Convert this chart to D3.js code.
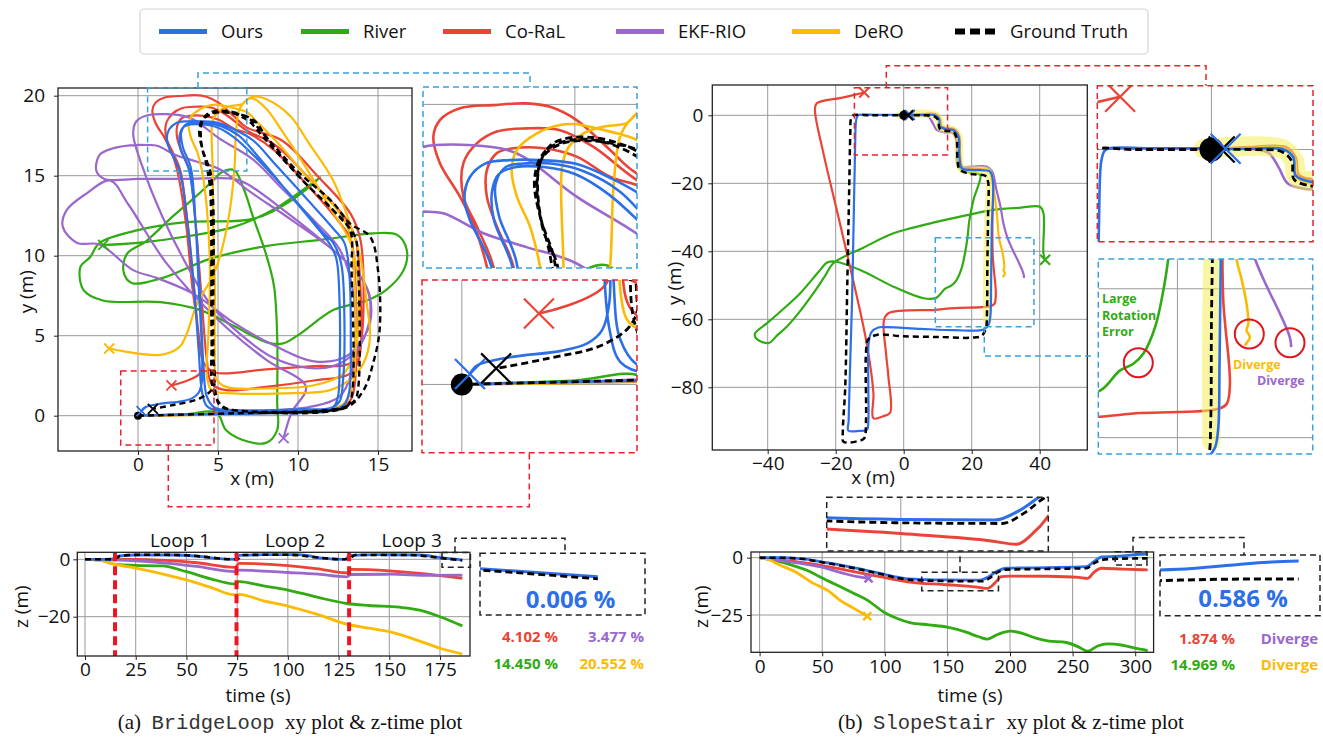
<!DOCTYPE html>
<html>
<head>
<meta charset="utf-8">
<script src="https://cdn.jsdelivr.net/npm/d3@7"></script>
<style>
  body { margin: 0; background: #fff; }
  svg { display: block; }
  text { font-family: "Open Sans", "Noto Sans", sans-serif; fill: #111; }
</style>
</head>
<body>
<svg id="fig" width="1323" height="738"></svg>
<script>
// ---------------- legend ----------------
const methods = ["Ours", "River", "Co-RaL", "EKF-RIO", "DeRO", "Ground Truth"];
const methodColors = ["#2d6fe8", "#30ab12", "#ea4337", "#9a67cc", "#fbbb05", "#000000"];

// ---------------- BridgeLoop xy (m) ----------------
const bridgeGT = [[0,0],[6,0.15],[12.2,0.35],[13.04,0.56],[13.35,1.19],[13.35,9.1],[13.25,11.6],[12.2,12.85],[10.1,14.9],[8.04,17.4],[7.2,18.5],[5.96,18.9],[4.7,18.9],[4.08,18.5],[3.9,17.75],[4.08,16.4],[4.5,15.35],[4.7,13.3],[4.7,4.9],[4.8,1.8],[5.1,0.67],[5.96,0.35],
  [12.83,0.52],[13.56,0.98],[13.77,1.8],[13.77,9.1],[13.56,11.2],[12.6,12.4],[10.2,14.8],[7.83,17.4],[6.8,18.5],[5.33,19.0],[4.19,18.7],[3.83,17.85],[4.3,15.56],[4.6,13.3],[4.6,4.9],[4.7,1.6],[5.33,0.56],[6.4,0.3],
  [13,0.5],[14.1,1.6],[14.7,3.3],[15.1,5.35],[15.0,9.1],[14.5,11.2],[13.25,12.0],[12.2,13.3],[9.9,15.35],[7.8,17.65],[6.9,18.6],[5.5,19.05],[4.4,18.9],[3.98,18.27],[4.0,16.8],[4.4,15.56],[4.55,13.3],[4.6,4.9],[4.7,1.8],[3.9,1.1],[2.2,0.67],[0.93,0.43]];
const bridgeOurs = [[0,0],[2,0.05],[5,0.1],[8,0.15],[12,0.3],[12.9,0.7],[13.2,1.5],[13.3,5],[13.2,9],[12.9,10.8],[12.2,11.7],[10.5,13.6],[8.5,15.8],[7.2,17.2],[6.0,17.9],[5.0,18.3],[4.0,18.4],[3.1,18.4],[2.4,18.3],[1.95,17.9],[1.8,17.3],[1.95,16.7],[2.6,15.3],[3.1,12],[3.5,8],[3.8,4],[4.0,1.5],[4.3,0.6],[5,0.3],
  [8,0.25],[12,0.45],[12.6,0.9],[12.8,2],[12.9,6],[12.7,9.5],[12.2,10.8],[11.5,11.5],[9.8,13.5],[7.5,16],[6.0,17.4],[5.0,18.0],[4.1,18.2],[3.3,18.2],[2.8,18.0],[2.6,17.5],[2.65,16.7],[3.2,15.3],[3.6,12],[3.9,7],[4.1,3],[4.3,1.2],[4.8,0.5],[6,0.35],
  [10,0.4],[12.2,0.55],[12.5,1.2],[12.6,3],[12.6,7],[12.4,9.8],[12.0,10.7],[11,12],[9.5,13.8],[7.5,16.2],[6.3,17.5],[5.2,18.1],[4.3,18.3],[3.5,18.3],[3.0,18.2],[2.7,17.7],[2.8,16.8],[3.3,15.5],[3.6,12],[3.8,8],[4.0,4],[4.0,2.2],[3.8,1.45],[3.4,1.1],[2.7,0.9],[1.3,0.73],[0.4,0.5],[0.22,0.28]];
const bridgeCoral = [[0,0],[3,0.05],[6,0.15],[9,0.25],[12.5,0.4],[13.3,1],[13.6,2.5],[13.6,8],[13.3,11],[12.5,12.2],[10.5,14.5],[8.5,16.6],[7,17.6],[6.02,17.92],[5.05,18.5],[4.09,18.74],[3.22,18.74],[2.74,18.6],[2.45,18.11],[2.45,17.35],[2.74,16.49],[3.22,15.34],[3.6,12],[4.0,7],[4.3,3.5],[4.6,2],[5.5,1.6],[8,1.8],[11,2.2],[13.2,2.6],
  [13.8,3.5],[13.9,8],[13.6,11],[13,12.3],[11,14.5],[8.6,16.9],[6.79,17.83],[5.54,18.78],[4.57,19.26],[3.6,19.31],[2.74,19.22],[2.16,18.88],[1.77,18.31],[1.77,17.35],[2.16,16.49],[2.64,15.34],[3.1,12],[3.5,8],[3.8,5],[4.1,3.3],[4.8,2.7],[8,2.9],[11,3.1],[13.3,3.3],
  [13.9,4.5],[14.1,8],[13.9,11],[13.3,12.6],[11.2,15],[9,17.2],[6.79,18.02],[6.02,18.69],[5.05,19.55],[4.28,19.93],[3.6,20.03],[2.64,19.98],[1.67,19.89],[1.09,19.55],[0.9,19.07],[1.09,18.31],[1.67,17.35],[2.09,16.49],[2.45,15.34],[3.0,12],[3.4,8],[3.8,5],[3.92,2.71],[2.09,1.9]];
const bridgeEkf = [[0,0],[4,0.1],[8,0.3],[11,0.6],[12.6,1.2],[13.3,2.5],[13.6,5],[13.4,8],[12.6,10.4],[11,12.2],[9,14.2],[7.2,16],[5.05,17.35],[3.5,18.5],[2.83,18.74],[0.61,18.78],[-0.1,18.4],[-0.3,17.6],
  [0.3,15.5],[1.5,12.5],[3,9.5],[4.5,7],[6.5,5],[8.5,3.6],[10.5,3.0],[12.2,3.1],[13.5,3.9],[14.3,5.3],[14.5,7.2],[13.9,8.7],[12.2,10.35],[9.5,12.3],[7,14.0],[5.05,15.43],[3.6,15.9],[2.35,16.3],[1.19,16.87],[0.61,16.92],[-0.5,16.9],[-1.6,16.7],[-2.4,16.3],[-2.6,15.3],[-2.1,14.8],
  [0,14.8],[3,14.8],[6,14.8],[6.8,14.5],[9.1,12.85],[12.2,10.35],[13.9,8.7],[14.5,7.4],[14.5,5.8],[14.1,4.9],[13,3.7],[11,3.4],[8.5,4.4],[6,5.8],[3.5,7.6],[1.2,8.6],[-0.3,9.1],[-2.4,10.7],[-3.8,10.8],[-4.7,11.8],[-4.46,12.85],[-3.2,13.9],[-1.75,14.7],
  [-0.6,13.2],[1.8,9.5],[5,6],[8,3.5],[10.5,1.8],[9.6,0.2],[9.1,-1.4]];
const bridgeDero = [[0,0],[4,0.05],[8,0.15],[11,0.3],[12.8,0.7],[13.4,1.8],[13.6,5],[13.5,9],[13.2,11.5],[12.5,12.8],[10.5,15],[8.6,17.2],[7.5,18.3],[6.79,18.98],[6.21,19.17],[5.63,19.31],[5.05,19.43],[4.57,19.41],[3.9,19.17],[3.32,18.69],[3.17,18.11],[3.32,17.35],[3.7,16.49],[3.99,15.34],[4.3,13],[4.5,9],[4.4,5],[4.3,2.5],[4.6,1.6],[6,1.4],[9,1.4],[12,1.6],[13.3,2.3],
  [14.1,3.3],[14.5,4.9],[14.3,7],[13.9,9.9],[13.25,12],[12.2,14.7],[10.7,17.0],[9.5,18.75],[8.0,19.8],[7.2,19.95],[6.79,19.74],[6.5,19.46],[5.83,19.36],[5.25,19.17],[4.77,18.69],[4.62,18.11],[4.67,15.34],[4.7,12],[4.8,8],[4.8,4],[4.9,2.3],[5.5,1.8],[8,1.7],[11,1.9],[12.8,2.6],
  [13.5,3.8],[13.8,6],[13.7,9],[13.2,11],[12,13],[10.5,15.5],[9,17.8],[8,19.2],[7.1,19.85],[6.6,19.55],[6.31,19.07],[6.12,17.64],[6.02,15.34],[5.6,12],[4.8,9],[3.7,7],[3.0,5],[2.6,4.3],[1.4,3.8],[-1.8,4.2]];
const bridgeRiver = [[0,0],[3,0.1],[4.9,0.2],[5.5,-0.9],[6.5,-1.5],[8,-1.7],[8.7,-0.9],[8.7,0.8],[8.7,4.9],[8.5,8.1],[8,10.1],[7.2,12.4],[6.6,14.2],[6,15.35],[5.2,15.2],[4.7,14.7],[3.5,13.6],[2,12.3],[0.5,10.9],[-0.7,10.1],[-0.9,9],[-0.4,8.3],[1.5,8.6],[4.5,9.8],[8,10.6],[11.5,11.0],[14.7,11.4],[16.2,11.3],[16.8,10.35],[16.6,9.1],[15.5,7.85],[14.3,7.2],[12.2,6.6],[10.1,5.1],[9,4.5],[8,4.6],[6,5.6],[3.9,6.6],[1.4,7.1],[-2.2,7.2],[-3.4,7.85],[-3.6,9.3],[-3,9.9],[-2.4,10.8],[0,11.6],[3,12.1],[7.2,12.3],[9.5,13.4],[11.4,14.9],[10,13.9],[8.5,12.9],[6,11.8],[3,11.2],[0,10.8],[-2.17,10.67]];
const bridgeEnds = [[0.22,0.28],[-2.17,10.67],[2.09,1.9],[9.1,-1.4],[-1.8,4.2],[0.93,0.43]];

// ---------------- SlopeStair xy (m) ----------------
const stairGT = [[0,0],[5,0],[9,-0.3],[10.2,-1.5],[10.5,-3.8],[12.5,-4.6],[14.5,-4.8],[15.5,-6.5],[15.8,-12.5],[16.5,-16],[20,-17.3],[24,-17.8],[24.8,-19.5],[24.8,-30],[24.6,-45],[24.5,-58],[24.2,-62.5],[23,-64.8],[20,-65.4],[10,-65.2],[0,-65],[-8,-64.6],[-10.5,-66],[-11.1,-70],[-11.1,-90],[-11.6,-95],[-13,-95.7],[-17.7,-96],[-17.9,-93],[-17.2,-80],[-16.6,-50],[-16,-20],[-15.7,-5],[-15.5,-1],[-14.8,0],[-10,0],[-5,0],[1.3,0]];
const stairOurs = [[0,0],[5,0.1],[9.2,0],[10.4,-1],[10.7,-3.3],[12.6,-4.1],[14.5,-4.3],[16.1,-6.3],[16.4,-12.2],[17.1,-15.6],[20.5,-16.1],[25.4,-16.6],[26.2,-19],[25.9,-33.7],[25.7,-50],[25.5,-59],[25,-61.5],[23.5,-63],[15,-63.2],[5,-62.8],[-5,-62.3],[-7.5,-62.4],[-9.5,-63.8],[-10.3,-67],[-10.4,-80],[-10.4,-90],[-10.8,-92.5],[-13,-92.8],[-16.3,-92.7],[-16.2,-90],[-15.8,-75],[-15.2,-55],[-14.7,-30],[-14.3,-10],[-14,-1.5],[-13.6,-0.2],[-13,0.15],[-8,0.15],[-1,0.15],[1.8,0.1]];
const stairCoral = [[0,0],[5,0.3],[9.5,0.3],[10.7,-1],[11.1,-3.2],[12.8,-3.8],[14.8,-4.0],[16.3,-6],[16.6,-12],[17.3,-15.3],[20.5,-15.8],[25.5,-16.3],[26.3,-18.5],[26.1,-30],[26.2,-41.5],[27.1,-52.8],[26.65,-55.5],[25.3,-56.2],[15,-56.7],[9.5,-57.2],[-4.5,-58.2],[-5.8,-60.2],[-5.2,-70],[-4.5,-76.9],[-4,-87.5],[-6,-88.5],[-8.9,-89.1],[-8.9,-81.8],[-10.9,-67],[-15.8,-44.5],[-19.7,-27.8],[-23.6,-11.2],[-26.1,1.6],[-25.6,3.5],[-18,5.2],[-11.6,6.7]];
const stairRiver = [[0,0],[5,0.2],[9.3,0.2],[10.5,-1.2],[10.9,-3.5],[12.8,-4.3],[14.6,-4.6],[16.0,-6.6],[16.2,-12.5],[16.9,-16],[20,-17],[22.5,-17.5],[20.5,-24.9],[19.3,-31],[18.76,-36],[18.1,-40.2],[17,-45.1],[15.4,-48.7],[14.0,-50.1],[12.2,-51],[9.5,-53.7],[5.8,-53.8],[-3,-50.4],[-12.8,-45.5],[-20.2,-43],[-22.5,-43.3],[-25,-46],[-30.5,-52.4],[-36,-57.5],[-40,-61],[-43.7,-64.1],[-43.5,-65.5],[-39.8,-67],[-37,-64.5],[-34.4,-62.2],[-30,-57],[-26.6,-52.4],[-23,-47],[-20.7,-43.5],[-12,-39],[-3,-34.7],[7,-32],[16.6,-29.8],[26.4,-27.8],[34,-27.2],[40.1,-26.9],[41.1,-28.8],[41.1,-40.6],[41.6,-42.5]];
const stairEkf = [[0,0],[4,0.1],[7.2,-0.4],[8.5,-2.2],[9.7,-4.3],[12,-5],[14.6,-5.3],[15.6,-8.2],[16.1,-15.1],[20,-15.1],[24.4,-15.1],[26,-16.5],[26.5,-18],[27.3,-22],[28.5,-27],[29.3,-31.7],[30.5,-36],[32.1,-39.7],[33.85,-43.3],[35.2,-46.5],[35.4,-47.85]];
const stairDero = [[0,0],[5,0.2],[9.3,0.1],[10.6,-1.3],[10.9,-3.6],[12.8,-4.4],[14.6,-4.7],[16.0,-6.6],[16.3,-12.5],[17.0,-15.8],[20.5,-16.3],[24.9,-16.1],[25.9,-19],[26.9,-24.9],[27.5,-30],[28,-36],[28.7,-38.8],[29.35,-42],[29.6,-44.7],[29.35,-45.6],[29.8,-46.5],[29.1,-47.6]];
const stairHighlight = [[-1,0.1],[9,0.1],[10.5,-1.5],[10.9,-3.6],[14.5,-4.4],[16,-6.3],[16.3,-12],[17,-15.6],[24.5,-16.5],[25.3,-19],[24.9,-30],[24.6,-45],[24.6,-60.5]];
const stairEnds = [[1.8,0.1],[41.6,-42.5],[-11.6,6.7],null,null,[1.3,0]];

// ---------------- z-time [t (s), z (m)] ----------------
const bridgeZOurs  = [[0,0],[10,0],[14,0.1],[17,1.2],[25,1.5],[45,1.5],[58,0.9],[66,0.2],[74,0],[76,1.4],[90,1.6],[105,1.6],[118,0.3],[128,0],[131,1.4],[145,1.6],[165,1.5],[175,0.6],[186,-0.2]];
const bridgeZGT    = [[0,0],[10,0],[14,0],[18,1.3],[30,1.6],[50,1.4],[62,0.6],[72,0],[75,0],[78,1.5],[100,1.6],[115,0.6],[127,0],[130,0],[133,1.5],[160,1.5],[176,0.4],[186,-0.4]];
const bridgeZCoral = [[0,0],[15,0],[25,0],[40,-0.4],[55,-1.2],[74,-2.8],[76,-1.4],[100,-2.2],[115,-3.3],[129,-4.7],[131,-3.5],[150,-4.0],[165,-4.9],[186,-6.6]];
const bridgeZEkf   = [[0,0],[15,-0.2],[25,-0.5],[40,-1.3],[55,-2.5],[74,-4.3],[76,-3.8],[100,-4.6],[115,-5.2],[129,-6.1],[131,-5.3],[150,-5.2],[170,-5.6],[186,-5.5]];
const bridgeZRiver = [[0,0],[8,-0.3],[15,-1.8],[25,-2.1],[38,-2.3],[50,-4.3],[62,-6.8],[74,-8.6],[76,-7.8],[88,-9.3],[100,-10.7],[115,-13.3],[129,-15.4],[140,-16.1],[155,-16.7],[165,-17.7],[175,-20],[186,-23.2]];
const bridgeZDero  = [[0,0],[8,-0.5],[15,-1.8],[25,-3.1],[40,-5.4],[50,-7.2],[62,-9.8],[74,-12.4],[76,-12.2],[88,-14.5],[100,-16.3],[115,-19.3],[129,-22.6],[140,-24],[150,-25.2],[165,-28.5],[175,-31],[186,-33]];
const loopStarts = [14.8, 74.7, 130.2];
const loopLabels = ["Loop 1", "Loop 2", "Loop 3"];

const stairZOurs  = [[0,0],[15,0],[35,-0.5],[48,-1.7],[70,-3.8],[96,-6.8],[110,-8.5],[118,-9.2],[150,-9.7],[176,-9.8],[183,-8.3],[190,-5.8],[197,-4.6],[230,-4.3],[261,-3.9],[267,-1.7],[273,0.3],[290,0.8],[305,1.5],[310,1.6]];
const stairZGT    = [[0,0],[15,0],[35,-0.6],[50,-2],[70,-4],[96,-7],[110,-8.8],[120,-9.6],[150,-10.2],[178,-10.3],[184,-8.8],[190,-6.4],[197,-5.2],[230,-4.9],[261,-4.6],[267,-2.5],[273,-1.0],[283,-0.5],[305,-0.3],[310,-0.3]];
const stairZCoral = [[0,0],[16,-1],[30,-1.8],[48,-3.2],[70,-5.5],[96,-8.3],[118,-10.5],[150,-11.8],[175,-12.9],[182,-13.4],[188,-11],[193,-8.3],[200,-8],[230,-8.1],[255,-8.6],[262,-9],[267,-6.4],[273,-4.6],[290,-5],[310,-5.3]];
const stairZEkf   = [[0,0],[16,-1.2],[30,-2.3],[48,-3.9],[65,-6.5],[78,-8.3],[87,-9]];
const stairZDero  = [[0,0],[8,-1],[16,-3.2],[28,-6],[43,-11.2],[55,-14.5],[64,-18.5],[75,-22],[86,-25.5]];
const stairZRiver = [[0,0],[16,-1.7],[30,-4],[40,-6],[48,-8.3],[60,-11.5],[75,-15.5],[86,-18.5],[100,-24],[110,-26.5],[120,-28.3],[135,-29.3],[150,-30.3],[165,-32.5],[175,-34.5],[182,-35.5],[190,-33.5],[200,-32],[210,-33],[220,-35],[230,-36.3],[245,-37],[255,-39],[262,-40.8],[270,-38.5],[278,-37.6],[290,-38.2],[300,-39.5],[310,-40.5]];

const bridgeErr = ["0.006 %", "14.450 %", "4.102 %", "3.477 %", "20.552 %"];
const stairErr  = ["0.586 %", "14.969 %", "1.874 %", "Diverge", "Diverge"];

// ---------------- helpers ----------------
const svg = d3.select("#fig");
const defs = svg.append("defs");
let clipN = 0;
const C = name => methodColors[methods.indexOf(name)];
const TICK_FS = 19, LABEL_FS = 19;

function clipRect(b) {
  const id = "clip" + (clipN++);
  defs.append("clipPath").attr("id", id).append("rect")
    .attr("x", b[0]).attr("y", b[1]).attr("width", b[2] - b[0]).attr("height", b[3] - b[1]);
  return "url(#" + id + ")";
}
function polyline(pts, color, width, dash) {
  svg.append("path").attr("d", d3.line()(pts)).attr("fill", "none")
    .attr("stroke", color).attr("stroke-width", width).attr("stroke-dasharray", dash);
}
function drawX(g, x, y, s, color, w) {
  g.append("path").attr("d", `M${x-s},${y-s}L${x+s},${y+s}M${x-s},${y+s}L${x+s},${y-s}`)
    .attr("stroke", color).attr("stroke-width", w).attr("fill", "none");
}

// one xy / z panel: series drawn through scales, clipped to the box
function panel(p) {
  const g = svg.append("g");
  const inner = g.append("g").attr("clip-path", clipRect(p.box));
  const [x0, y0, x1, y1] = p.box;
  (p.gx || []).forEach(v => inner.append("line").attr("x1", p.x(v)).attr("x2", p.x(v))
      .attr("y1", y0).attr("y2", y1).attr("stroke", "#999").attr("stroke-width", 1));
  (p.gy || []).forEach(v => inner.append("line").attr("y1", p.y(v)).attr("y2", p.y(v))
      .attr("x1", x0).attr("x2", x1).attr("stroke", "#999").attr("stroke-width", 1));
  const line = d3.line().x(d => p.x(d[0])).y(d => p.y(d[1])).curve(p.curve || d3.curveCatmullRom.alpha(0.5));
  p.series.forEach(s => {
    if (s.highlight) {
      inner.append("path").datum(s.data).attr("d", line).attr("fill", "none")
        .attr("stroke", "#f2ee55").attr("stroke-opacity", 0.55)
        .attr("stroke-width", s.width).attr("stroke-linecap", "round").attr("stroke-linejoin", "round");
      return;
    }
    const gt = s.name === "Ground Truth";
    inner.append("path").datum(s.data).attr("d", line).attr("fill", "none")
      .attr("stroke", C(s.name)).attr("stroke-width", gt ? p.gtw : p.lw)
      .attr("stroke-dasharray", gt ? p.dash : null).attr("stroke-linejoin", "round");
  });
  (p.marks || []).forEach(m => {
    const px = p.x(m.at[0]), py = p.y(m.at[1]);
    if (m.dot) inner.append("circle").attr("cx", px).attr("cy", py).attr("r", m.dot).attr("fill", "#000");
    else drawX(inner, px, py, m.s, C(m.name), m.w || 2);
  });
  g.append("rect").attr("x", x0).attr("y", y0).attr("width", x1 - x0).attr("height", y1 - y0)
    .attr("fill", "none").attr("stroke", p.frame || "#222").attr("stroke-width", p.frameW || 1.3)
    .attr("stroke-dasharray", p.frameDash || null);
  return g;
}
function axes(p, xt, yt, pad) {
  const ax = svg.append("g").attr("transform", `translate(0,${p.box[3]})`)
    .call(d3.axisBottom(p.x).tickValues(xt).tickSize(4).tickPadding(pad[0]));
  const ay = svg.append("g").attr("transform", `translate(${p.box[0]},0)`)
    .call(d3.axisLeft(p.y).tickValues(yt).tickSize(4).tickPadding(pad[1]));
  [ax, ay].forEach(a => {
    a.attr("font-size", TICK_FS).attr("font-family", '"Open Sans", sans-serif');
    a.select(".domain").remove();
    a.selectAll("line").attr("stroke", "#222");
    a.selectAll("text").attr("fill", "#111");
  });
}
function label(x, y, txt, fs, opt = {}) {
  const t = svg.append("text").attr("x", x).attr("y", y).attr("font-size", fs)
    .attr("text-anchor", opt.anchor || "middle").text(txt);
  if (opt.rotate) t.attr("transform", `rotate(-90,${x},${y})`);
  if (opt.color) t.style("fill", opt.color);
  if (opt.bold) t.attr("font-weight", 700);
  return t;
}
function boxOf(p, dx, dy) { return [p.x(dx[0]), p.y(dy[1]), p.x(dx[1]), p.y(dy[0])]; }
function dashedBox(b, color) {
  svg.append("rect").attr("x", b[0]).attr("y", b[1]).attr("width", b[2] - b[0]).attr("height", b[3] - b[1])
    .attr("fill", "none").attr("stroke", color).attr("stroke-width", 1.5).attr("stroke-dasharray", "6,4");
}
const sets = (arrs, order) => order.map(i => ({ name: methods[i], data: arrs[i] }));
const drawOrder = [1, 2, 3, 4, 0, 5];
const BLUE_BOX = "#39a0dd", RED_BOX = "#e8212b", BLACK_BOX = "#222";

// ---------------- legend ----------------
svg.append("rect").attr("x", 140).attr("y", 9).attr("width", 1008).attr("height", 45).attr("rx", 4)
  .attr("fill", "#fff").attr("stroke", "#d4d4d4").attr("stroke-width", 1.2);
const legSw = [159, 301, 443, 616, 792, 955];
methods.forEach((m, i) => {
  const gt = m === "Ground Truth";
  svg.append("line").attr("x1", legSw[i]).attr("x2", legSw[i] + (gt ? 40 : 48)).attr("y1", 31.5).attr("y2", 31.5)
    .attr("stroke", methodColors[i]).attr("stroke-width", gt ? 6 : 5).attr("stroke-dasharray", gt ? "10,5" : null);
  label(legSw[i] + (gt ? 55 : 62), 38, m, 18.5, { anchor: "start" });
});

// ---------------- (a) BridgeLoop xy ----------------
const bridgeArr = [bridgeOurs, bridgeRiver, bridgeCoral, bridgeEkf, bridgeDero, bridgeGT];
const aMain = { box: [58, 88, 412, 451], x: d3.scaleLinear([0, 15], [138, 378]), y: d3.scaleLinear([0, 20], [415.7, 95.7]) };
const aBlueDom = { x: [0.6, 6.8], y: [15.3, 20.5] }, aRedDom = { x: [-1.08, 4.75], y: [-1.83, 2.8] };
panel(Object.assign(aMain, { gx: [0, 5, 10, 15], gy: [0, 5, 10, 15, 20], lw: 2.2, gtw: 2.4, dash: "6,4",
  series: sets(bridgeArr, drawOrder),
  marks: [{ at: [0, 0], dot: 4 }].concat(bridgeEnds.map((e, i) => ({ name: methods[i], at: e, s: 5, w: 1.8 }))) }));
axes(aMain, [0, 5, 10, 15], [0, 5, 10, 15, 20], [3, 9]);
label(252, 485, "x (m)", LABEL_FS);
label(33, 291.7, "y (m)", LABEL_FS, { rotate: true });
dashedBox(boxOf(aMain, aBlueDom.x, aBlueDom.y), BLUE_BOX);
dashedBox(boxOf(aMain, aRedDom.x, aRedDom.y), RED_BOX);

const aBlueBox = [423, 87, 637, 268], aRedBox = [422, 280, 637, 452.7];
panel({ box: aBlueBox, x: d3.scaleLinear(aBlueDom.x, [aBlueBox[0], aBlueBox[2]]), y: d3.scaleLinear(aBlueDom.y, [aBlueBox[3], aBlueBox[1]]),
  gx: [5], gy: [20], lw: 2.6, gtw: 2.8, dash: "7,4", series: sets(bridgeArr, drawOrder),
  frame: BLUE_BOX, frameW: 1.5, frameDash: "6,4" });
panel({ box: aRedBox, x: d3.scaleLinear(aRedDom.x, [aRedBox[0], aRedBox[2]]), y: d3.scaleLinear(aRedDom.y, [aRedBox[3], aRedBox[1]]),
  gx: [0], gy: [0], lw: 2.6, gtw: 2.8, dash: "7,4", series: sets(bridgeArr, drawOrder),
  marks: [{ at: [0, 0], dot: 11 }, { name: "Ours", at: bridgeEnds[0], s: 15, w: 2.2 }, { name: "Ground Truth", at: bridgeEnds[5], s: 15, w: 2.2 }, { name: "Co-RaL", at: bridgeEnds[2], s: 15, w: 2.2 }],
  frame: RED_BOX, frameW: 1.5, frameDash: "6,4" });
polyline([[198, 88], [198, 73], [530, 73], [530, 87]], BLUE_BOX, 1.5, "6,4");
polyline([[168.3, 445], [168.3, 506.7], [529.3, 506.7], [529.3, 452.7]], RED_BOX, 1.5, "6,4");

// ---------------- (b) SlopeStair xy ----------------
const stairArr = [stairOurs, stairRiver, stairCoral, stairEkf, stairDero, stairGT];
const bMain = { box: [712.3, 85, 1087.3, 450], x: d3.scaleLinear([0, 20], [903.7, 971.7]), y: d3.scaleLinear([0, -20], [115.3, 183.3]) };
const bRedDom = { x: [-14.5, 12.9], y: [-11.7, 8.1] }, bBlueDom = { x: [9.3, 38.3], y: [-62.2, -36] };
const stairSets = (hw) => {
  const s = sets(stairArr, [1, 2, 3, 4]);
  s.push({ highlight: true, data: stairHighlight, width: hw });
  return s.concat(sets(stairArr, [0, 5]));
};
panel(Object.assign(bMain, { gx: [-40, -20, 0, 20, 40], gy: [0, -20, -40, -60, -80], lw: 2.2, gtw: 2.5, dash: "6,4",
  series: stairSets(8.5),
  marks: [{ at: [0, 0], dot: 4.5 }].concat(stairEnds.map((e, i) => e && ({ name: methods[i], at: e, s: 5, w: 2 })).filter(Boolean)) }));
axes(bMain, [-40, -20, 0, 20, 40], [0, -20, -40, -60, -80], [3, 5]);
label(873, 484, "x (m)", LABEL_FS);
label(681, 283.3, "y (m)", LABEL_FS, { rotate: true });
dashedBox(boxOf(bMain, bRedDom.x, bRedDom.y), RED_BOX);
dashedBox(boxOf(bMain, bBlueDom.x, bBlueDom.y), BLUE_BOX);

const bRedBox = [1097.3, 85.7, 1313, 241.7], bBlueBox = [1098.3, 259, 1312.7, 454];
panel({ box: bRedBox, x: d3.scaleLinear(bRedDom.x, [bRedBox[0], bRedBox[2]]), y: d3.scaleLinear(bRedDom.y, [bRedBox[3], bRedBox[1]]),
  gx: [0], gy: [0], lw: 2.6, gtw: 2.8, dash: "7,4", series: stairSets(19.7),
  marks: [{ at: [0, 0], dot: 12 }, { name: "Ground Truth", at: stairEnds[5], s: 13, w: 2.2 }, { name: "Ours", at: stairEnds[0], s: 15, w: 2.2 }, { name: "Co-RaL", at: stairEnds[2], s: 15, w: 2.2 }],
  frame: RED_BOX, frameW: 1.5, frameDash: "6,4" });
panel({ box: bBlueBox, x: d3.scaleLinear(bBlueDom.x, [bBlueBox[0], bBlueBox[2]]), y: d3.scaleLinear(bBlueDom.y, [bBlueBox[3], bBlueBox[1]]),
  gx: [20], gy: [-40, -60], lw: 2.6, gtw: 2.8, dash: "7,4", series: stairSets(18.5),
  frame: BLUE_BOX, frameW: 1.5, frameDash: "6,4" });
polyline([[886.3, 87.7], [886.3, 65.7], [1206, 65.7], [1206, 85.7]], RED_BOX, 1.5, "6,4");
polyline([[984.3, 326.7], [984.3, 356], [1092, 356]], BLUE_BOX, 1.5, "6,4");
[[1138.3, 362.7], [1249.3, 334], [1290, 342.7]].forEach(c =>
  svg.append("circle").attr("cx", c[0]).attr("cy", c[1]).attr("r", 14.5).attr("fill", "none").attr("stroke", "#e0161e").attr("stroke-width", 2));
["Large", "Rotation", "Error"].forEach((w, i) => label(1102, 303 + i * 16.5, w, 12.5, { anchor: "start", bold: true, color: C("River") }));
label(1233, 368.5, "Diverge", 12.5, { anchor: "start", bold: true, color: C("DeRO") });
label(1257, 385, "Diverge", 12.5, { anchor: "start", bold: true, color: C("EKF-RIO") });

// ---------------- (a) z-time ----------------
const bridgeZ = [bridgeZOurs, bridgeZRiver, bridgeZCoral, bridgeZEkf, bridgeZDero, bridgeZGT];
const aZ = { box: [77.3, 552.3, 470, 656], x: d3.scaleLinear([0, 175], [85, 440]), y: d3.scaleLinear([0, -20], [559.3, 616.7]) };
const aZg = panel(Object.assign(aZ, { gx: [0, 25, 50, 75, 100, 125, 150, 175], gy: [0, -20], lw: 2.8, gtw: 2.6, dash: "6,4",
  curve: d3.curveMonotoneX, series: sets(bridgeZ, drawOrder) }));
loopStarts.forEach(t => aZg.insert("line", "rect").attr("x1", aZ.x(t)).attr("x2", aZ.x(t)).attr("y1", aZ.box[1]).attr("y2", aZ.box[3])
  .attr("stroke", "#ee1520").attr("stroke-width", 4).attr("stroke-dasharray", "9,5"));
axes(aZ, [0, 25, 50, 75, 100, 125, 150, 175], [0, -20], [3, 3]);
[180, 295, 411.7].forEach((x, i) => label(x, 547, loopLabels[i], 19));
label(258, 702, "time (s)", LABEL_FS);
label(28, 606.7, "z (m)", LABEL_FS, { rotate: true });
const aZsmall = { x: [176, 190], y: [-2.8, 2.4] };
dashedBox(boxOf(aZ, aZsmall.x, aZsmall.y), BLACK_BOX);
const aZBox = [480, 553.3, 645, 615];
panel({ box: aZBox, x: d3.scaleLinear([176, 190], [aZBox[0], aZBox[2]]), y: d3.scaleLinear([-3.7, 1.93], [aZBox[3], aZBox[1]]),
  lw: 3, gtw: 2.8, dash: "7,4", curve: d3.curveMonotoneX, series: sets(bridgeZ, [0, 5]),
  frame: BLACK_BOX, frameW: 1.5, frameDash: "6,4" });
polyline([[455, 552.3], [455, 538.3], [565, 538.3], [565, 553.3]], BLACK_BOX, 1.5, "6,4");
label(570.6, 608, bridgeErr[0], 24, { bold: true, color: C("Ours") });
label(558, 641.5, bridgeErr[2], 15, { anchor: "end", bold: true, color: C("Co-RaL") });
label(644, 641.5, bridgeErr[3], 15, { anchor: "end", bold: true, color: C("EKF-RIO") });
label(558, 668.5, bridgeErr[1], 15, { anchor: "end", bold: true, color: C("River") });
label(644, 668.5, bridgeErr[4], 15, { anchor: "end", bold: true, color: C("DeRO") });

// ---------------- (b) z-time ----------------
const stairZ = [stairZOurs, stairZRiver, stairZCoral, stairZEkf, stairZDero, stairZGT];
const bZ = { box: [751, 552, 1153.6, 652.3], x: d3.scaleLinear([0, 300], [759.6, 1135.2]), y: d3.scaleLinear([0, -25], [557.7, 615]) };
panel(Object.assign(bZ, { gx: [0, 50, 100, 150, 200, 250, 300], gy: [0, -25], lw: 2.8, gtw: 2.6, dash: "6,4",
  curve: d3.curveMonotoneX, series: sets(stairZ, drawOrder),
  marks: [{ name: "EKF-RIO", at: [87, -9], s: 4, w: 2.5 }, { name: "DeRO", at: [86, -25.5], s: 4, w: 2.5 }] }));
axes(bZ, [0, 50, 100, 150, 200, 250, 300], [0, -25], [3, 4]);
label(970, 702, "time (s)", LABEL_FS);
label(708, 606.7, "z (m)", LABEL_FS, { rotate: true });
const bZmid = { x: [129.5, 190.8], y: [-14.4, -6.4] }, bZend = { x: [284, 309.4], y: [-3.2, 2.6] };
dashedBox(boxOf(bZ, bZmid.x, bZmid.y), BLACK_BOX);
dashedBox(boxOf(bZ, bZend.x, bZend.y), BLACK_BOX);
const bZTopBox = [826.7, 497.3, 1048.3, 551], bZEndBox = [1160, 555, 1320, 615.7];
panel({ box: bZTopBox, x: d3.scaleLinear(bZmid.x, [bZTopBox[0], bZTopBox[2]]), y: d3.scaleLinear(bZmid.y, [bZTopBox[3], bZTopBox[1]]),
  gx: [150], lw: 3, gtw: 2.8, dash: "7,4", curve: d3.curveMonotoneX, series: sets(stairZ, [2, 0, 5]),
  frame: BLACK_BOX, frameW: 1.5, frameDash: "6,4" });
panel({ box: bZEndBox, x: d3.scaleLinear([284, 314], [bZEndBox[0], bZEndBox[2]]), y: d3.scaleLinear([-4.2, 2.24], [bZEndBox[3], bZEndBox[1]]),
  lw: 3, gtw: 3, dash: "7,4", curve: d3.curveMonotoneX, series: sets(stairZ, [0, 5]),
  frame: BLACK_BOX, frameW: 1.5, frameDash: "6,4" });
polyline([[960, 572.3], [960, 551]], BLACK_BOX, 1.5, "6,4");
polyline([[1133, 551.7], [1133, 537.5], [1244, 537.5], [1244, 555]], BLACK_BOX, 1.5, "6,4");
label(1243, 607, stairErr[0], 24, { bold: true, color: C("Ours") });
label(1235, 643.5, stairErr[2], 15, { anchor: "end", bold: true, color: C("Co-RaL") });
label(1318, 643.5, stairErr[3], 15, { anchor: "end", bold: true, color: C("EKF-RIO") });
label(1235, 670, stairErr[1], 15, { anchor: "end", bold: true, color: C("River") });
label(1318, 670, stairErr[4], 15, { anchor: "end", bold: true, color: C("DeRO") });

// ---------------- captions ----------------
function caption(x, tag, name) {
  const t = svg.append("text").attr("x", x).attr("y", 729).attr("text-anchor", "middle")
    .attr("font-size", 21).style("font-family", '"Liberation Serif", "Times New Roman", serif');
  t.append("tspan").text(tag + "\u00a0\u00a0");
  t.append("tspan").style("font-family", '"Liberation Mono", "Courier New", monospace').style("fill", "#333")
    .attr("font-size", 20.5).text(name);
  t.append("tspan").text("\u00a0\u00a0xy plot & z-time plot");
}
caption(290, "(a)", "BridgeLoop");
caption(1011, "(b)", "SlopeStair");
</script>
</body>
</html>
